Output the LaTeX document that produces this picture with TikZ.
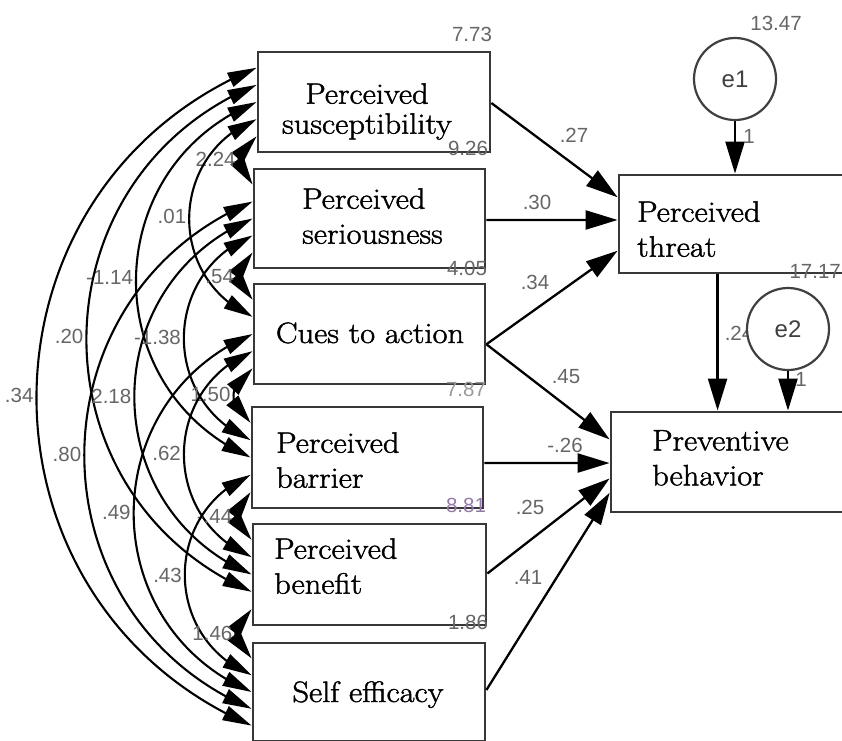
\documentclass[tikz,border=0pt]{standalone}
\usepackage{fontspec}
\setsansfont{Liberation Sans}
\newfontfamily\boxfont{Latin Modern Roman}[FakeStretch=1.1, FakeBold=1.5]
\usetikzlibrary{arrows.meta,bending,calc}
\begin{document}
\begin{tikzpicture}[x=1pt,y=-1pt,
  box/.style={draw=black!78, line width=2.8pt, inner sep=0pt, rectangle},
  btxt/.style={inner sep=0pt, font=\boxfont\fontsize{29.5}{35}\selectfont},
  err/.style={draw=black!75, line width=2.2pt, circle, fill=white, minimum size=82pt, inner sep=0pt, font=\sffamily\fontsize{24}{24}\selectfont, text=black!75},
  reg/.style={draw=black, line width=2.3pt, -{Triangle[length=32pt,width=19pt]}},
  cov/.style={draw=black, line width=2.1pt, {Triangle[length=29pt,width=15pt]}-{Triangle[length=29pt,width=15pt]}, bend right=67, looseness=1.224},
  lab/.style={inner sep=0pt, font=\sffamily\fontsize{20.5}{20.5}\selectfont, text=black!60},
  covlab/.style={lab, midway, anchor=east, xshift=-2pt}
]
\useasboundingbox (0,0) rectangle (842,740);
\fill[white] (0,0) rectangle (842,740);

% boxes
\node[box, minimum width=232pt, minimum height=100pt] (sus) at (374,102) {};
\node[box, minimum width=231pt, minimum height=99pt] (ser) at (369.5,218.5) {};
\node[box, minimum width=231pt, minimum height=100pt] (cues) at (369.5,334) {};
\node[box, minimum width=231pt, minimum height=101pt] (bar) at (367.5,457.5) {};
\node[box, minimum width=233pt, minimum height=101pt] (ben) at (369.5,574.5) {};
\node[box, minimum width=232pt, minimum height=98pt] (self) at (369,692) {};
\node[box, minimum width=241pt, minimum height=98pt] (threat) at (739.5,224) {};
\node[box, minimum width=249pt, minimum height=100pt] (prev) at (735.5,462) {};

% box texts
\node[btxt, anchor=north, align=center, font=\boxfont\fontsize{29.5}{30}\selectfont] (sust) at (367,83) {Perceived\\susceptibility};
\node[btxt, anchor=north west, align=left] (sert) at (302,188) {Perceived\\seriousness};
\node[btxt, anchor=base] (cuest) at (370,343) {Cues to action};
\node[btxt, anchor=north west, align=left] (bart) at (276,432) {Perceived\\barrier};
\node[btxt, anchor=north west, align=left] (bent) at (274,538) {Perceived\\benefit};
\node[btxt, anchor=base] (selft) at (368,702) {Self efficacy};
\node[btxt, anchor=north west, align=left] (threatt) at (637,201) {Perceived\\threat};
\node[btxt, anchor=north west, align=left] (prevt) at (652,430) {Preventive\\behavior};

% endpoints on the left sides
\foreach \n in {sus,ser,cues,bar,ben,self}{
  \foreach \k in {1,...,5}{
    \coordinate (\n\k) at ($(\n.north west)!\k/6!(\n.south west)$);
  }
}

% covariances
\draw[cov] (sus5) to node[covlab] (c1) {2.24} (ser1);
\draw[cov] (sus4) to node[covlab] (c2) {.01} (cues2);
\draw[cov] (sus3) to node[covlab] (c3) {-1.14} (bar3);
\draw[cov] (sus2) to node[covlab] (c4) {.20} (ben4);
\draw[cov] (sus1) to node[covlab] (c5) {.34} (self5);
\draw[cov] (ser5) to node[covlab] (c6) {.54} (cues1);
\draw[cov] (ser4) to node[covlab] (c7) {-1.38} (bar2);
\draw[cov] (ser3) to node[covlab] (c8) {2.18} (ben3);
\draw[cov] (ser2) to node[covlab] (c9) {.80} (self4);
\draw[cov] (cues5) to node[covlab] (c10) {1.50} (bar1);
\draw[cov] (cues4) to node[covlab] (c11) {.62} (ben2);
\draw[cov] (cues3) to node[covlab] (c12) {.49} (self3);
\draw[cov] (bar5) to node[covlab] (c13) {-.44} (ben1);
\draw[cov] (bar4) to node[covlab] (c14) {.43} (self2);
\draw[cov] (ben5) to node[covlab] (c15) {1.46} (self1);

% regressions
\draw[reg] ($(sus.north east)!0.51!(sus.south east)$) -- ($(threat.north west)!0.235!(threat.south west)$);
\draw[reg] ($(ser.north east)!0.515!(ser.south east)$) -- ($(threat.north west)!0.46!(threat.south west)$);
\draw[reg] ($(cues.north east)!0.6!(cues.south east)$) -- ($(threat.north west)!0.765!(threat.south west)$);
\draw[reg] ($(cues.north east)!0.6!(cues.south east)$) -- ($(prev.north west)!0.28!(prev.south west)$);
\draw[reg] ($(bar.north east)!0.553!(bar.south east)$) -- ($(prev.north west)!0.51!(prev.south west)$);
\draw[reg] ($(ben.north east)!0.49!(ben.south east)$) -- ($(prev.north west)!0.66!(prev.south west)$);
\draw[reg] ($(self.north east)!0.48!(self.south east)$) -- ($(prev.north west)!0.80!(prev.south west)$);

\coordinate (tp) at ($(threat.south west)!0.41!(threat.south east)$);
\draw[reg] (tp) -- (tp |- prev.north);

% path labels
\node[lab] (l1) at (574,135) {.27};
\node[lab] (l2) at (537,202) {.30};
\node[lab] (l3) at (535,282) {.34};
\node[lab] (l4) at (566,377) {.45};
\node[lab] (l5) at (565,445) {-.26};
\node[lab] (l6) at (530,507) {.25};
\node[lab] (l7) at (528,577) {.41};
\node[lab] (l8) at (739,333) {.24};

% error terms
\node[err] (e1) at (735,79) {e1};
\node[err] (e2) at (788,329) {e2};
\draw[reg] (e1.south) -- (e1.south |- threat.north);
\draw[reg] (e2.south) -- (e2.south |- prev.north);
\node[lab] (l9) at (749,136) {1};
\node[lab] (l10) at (801,379) {1};

% variances
\node[lab] (v1) at (472,34) {7.73};
\node[lab] (v2) at (468,148) {9.26};
\node[lab] (v3) at (467,268) {4.05};
\node[lab, text=black!40] (v4) at (466,389) {7.87};
\node[lab, text={rgb,255:red,150;green,120;blue,175}] (v5) at (466,505) {8.81};
\node[lab] (v6) at (468,622) {1.86};
\node[lab] (v7) at (776,23) {13.47};
\node[lab, anchor=east] (v8) at (841,271) {17.17};
\end{tikzpicture}
\end{document}
